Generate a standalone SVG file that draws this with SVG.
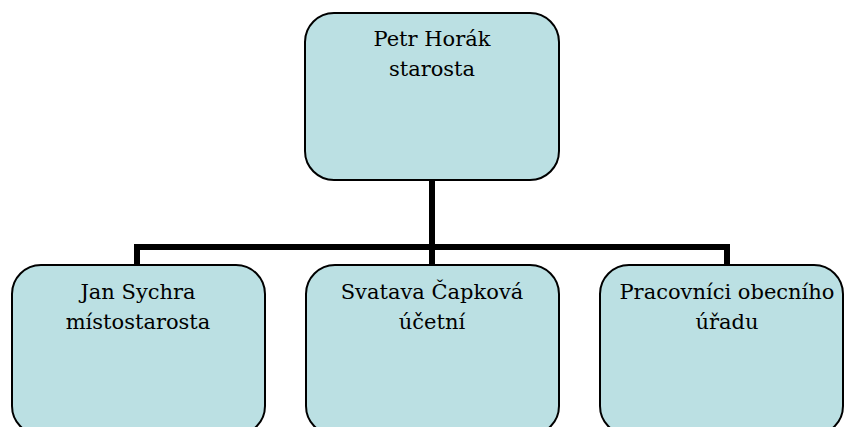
<svg xmlns="http://www.w3.org/2000/svg" width="846" height="427" viewBox="0 0 846 427">
<style>
.node{fill:#BBE0E3;stroke:#000;stroke-width:2}
.lbl{font-family:"DejaVu Serif",serif;font-size:21px;fill:#000;text-anchor:middle}
.conn{fill:none;stroke:#000;stroke-width:6;stroke-linecap:square}
</style>
<rect width="846" height="427" fill="#fff"/>
<g id="connectors">
<path class="conn" d="M432,180 V247"/>
<path class="conn" d="M137,264 V247 H727 V264"/>
<path class="conn" d="M432,247 V264"/>
</g>
<g id="n-starosta">
<rect class="node" x="305" y="13" width="254" height="167" rx="29" ry="29"/>
<text class="lbl" x="432" y="46">Petr Horák</text>
<text class="lbl" x="432" y="76">starosta</text>
</g>
<g id="n-mistostarosta">
<rect class="node" x="12" y="265" width="253" height="170" rx="29" ry="29"/>
<text class="lbl" x="138" y="299">Jan Sychra</text>
<text class="lbl" x="138" y="329">místostarosta</text>
</g>
<g id="n-ucetni">
<rect class="node" x="306" y="265" width="253" height="170" rx="29" ry="29"/>
<text class="lbl" x="432" y="299">Svatava Čapková</text>
<text class="lbl" x="432" y="329">účetní</text>
</g>
<g id="n-pracovnici">
<rect class="node" x="600" y="265" width="243" height="170" rx="29" ry="29"/>
<text class="lbl" x="727" y="299">Pracovníci obecního</text>
<text class="lbl" x="727" y="329">úřadu</text>
</g>
</svg>
